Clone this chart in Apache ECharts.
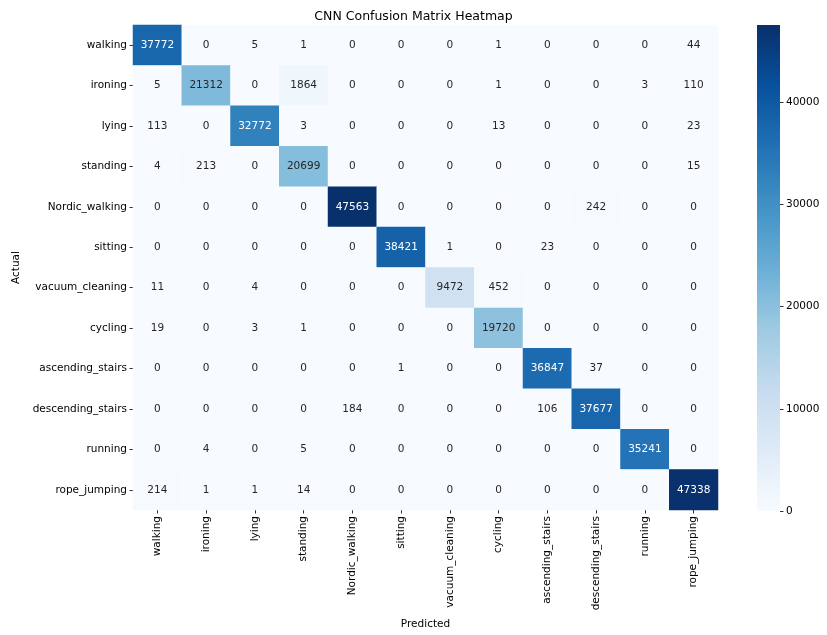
<!DOCTYPE html>
<html>
<head>
<meta charset="utf-8">
<script src="https://cdn.jsdelivr.net/npm/echarts@6/dist/echarts.min.js"></script>
<style>
  html, body { margin: 0; padding: 0; background: #fff; }
  #confusionChart { width: 827px; height: 635px; }
</style>
</head>
<body>
<div id="confusionChart"></div>
<script>
  // class names (same order for actual and predicted)
  const classes = ['walking', 'ironing', 'lying', 'standing', 'Nordic_walking', 'sitting',
    'vacuum_cleaning', 'cycling', 'ascending_stairs', 'descending_stairs', 'running', 'rope_jumping']

  // rows = actual, columns = predicted
  const counts = [
    [37772, 0, 5, 1, 0, 0, 0, 1, 0, 0, 0, 44],
    [5, 21312, 0, 1864, 0, 0, 0, 1, 0, 0, 3, 110],
    [113, 0, 32772, 3, 0, 0, 0, 13, 0, 0, 0, 23],
    [4, 213, 0, 20699, 0, 0, 0, 0, 0, 0, 0, 15],
    [0, 0, 0, 0, 47563, 0, 0, 0, 0, 242, 0, 0],
    [0, 0, 0, 0, 0, 38421, 1, 0, 23, 0, 0, 0],
    [11, 0, 4, 0, 0, 0, 9472, 452, 0, 0, 0, 0],
    [19, 0, 3, 1, 0, 0, 0, 19720, 0, 0, 0, 0],
    [0, 0, 0, 0, 0, 1, 0, 0, 36847, 37, 0, 0],
    [0, 0, 0, 0, 184, 0, 0, 0, 106, 37677, 0, 0],
    [0, 4, 0, 5, 0, 0, 0, 0, 0, 0, 35241, 0],
    [214, 1, 1, 14, 0, 0, 0, 0, 0, 0, 0, 47338]
  ]

  const colorbarTicks = [0, 10000, 20000, 30000, 40000]

  // matplotlib "Blues"
  const blues = ['#f7fbff', '#deebf7', '#c6dbef', '#9ecae1', '#6baed6', '#4292c6', '#2171b5', '#08519c', '#08306b']

  const font = 'DejaVu Sans'
  const vmax = Math.max(...counts.map(r => Math.max(...r)))

  let cells = []
  counts.forEach((row, i) => {
    row.forEach((v, j) => {
      cells.push({
        value: [j, i, v],
        label: {color: v > vmax * 0.55 ? '#ffffff' : '#262626'}
      })
    })
  })

  // colorbar gradient, bottom = 0, top = vmax
  const barStops = blues.map((c, k) => ({offset: 1 - k / (blues.length - 1), color: c}))

  const chart = echarts.init(document.getElementById('confusionChart'), null, {renderer: 'canvas'})
  chart.setOption({
    animation: false,
    textStyle: {fontFamily: font},
    title: {
      text: 'CNN Confusion Matrix Heatmap',
      left: 'center',
      top: 5,
      textStyle: {fontFamily: font, fontSize: 12.5, fontWeight: 'normal', color: '#000'}
    },
    grid: [
      {left: 133, top: 25, width: 585, height: 486},
      {left: 757, top: 25, width: 23, height: 486}
    ],
    graphic: [{
      type: 'rect',
      left: 757,
      top: 25,
      z: 0,
      shape: {width: 23, height: 486},
      style: {fill: new echarts.graphic.LinearGradient(0, 0, 0, 1, barStops)},
      silent: true
    }],
    xAxis: [
      {
        type: 'category',
        gridIndex: 0,
        data: classes,
        name: 'Predicted',
        nameLocation: 'middle',
        nameGap: 109,
        nameTextStyle: {fontFamily: font, fontSize: 10.5, color: '#000'},
        axisLine: {show: false},
        axisTick: {show: true, alignWithLabel: true, length: 3.5, lineStyle: {color: '#333'}},
        axisLabel: {rotate: 90, fontSize: 10.5, color: '#000', margin: 6, interval: 0},
        splitLine: {show: false}
      },
      {
        type: 'category', gridIndex: 1, data: [''],
        axisLine: {show: false, onZero: false}, axisTick: {show: false},
        axisLabel: {show: false}, splitLine: {show: false}
      }
    ],
    yAxis: [
      {
        type: 'category',
        gridIndex: 0,
        data: classes,
        inverse: true,
        name: 'Actual',
        nameLocation: 'middle',
        nameGap: 110,
        nameRotate: 90,
        nameTextStyle: {fontFamily: font, fontSize: 10.5, color: '#000'},
        axisLine: {show: false},
        axisTick: {show: true, alignWithLabel: true, length: 3.5, lineStyle: {color: '#333'}},
        axisLabel: {fontSize: 10.5, color: '#000', margin: 6, interval: 0},
        splitLine: {show: false}
      },
      {
        type: 'value',
        gridIndex: 1,
        position: 'right',
        min: 0,
        max: vmax,
        interval: 10000,
        axisLine: {show: false, onZero: false},
        axisTick: {show: true, length: 3.5, customValues: colorbarTicks, lineStyle: {color: '#333'}},
        axisLabel: {fontSize: 10.5, color: '#000', margin: 6, customValues: colorbarTicks,
          formatter: v => String(v)},
        splitLine: {show: false}
      }
    ],
    visualMap: {
      type: 'continuous',
      seriesIndex: 0,
      show: false,
      min: 0,
      max: vmax,
      inRange: {color: blues}
    },
    series: [
      {
        type: 'heatmap',
        xAxisIndex: 0,
        yAxisIndex: 0,
        data: cells,
        label: {show: true, fontSize: 10.5, fontFamily: font, formatter: p => p.value[2]},
        itemStyle: {borderWidth: 0},
        emphasis: {disabled: true}
      },
      {
        type: 'scatter',
        xAxisIndex: 1,
        yAxisIndex: 1,
        data: [],
        silent: true
      }
    ]
  })
</script>
</body>
</html>
